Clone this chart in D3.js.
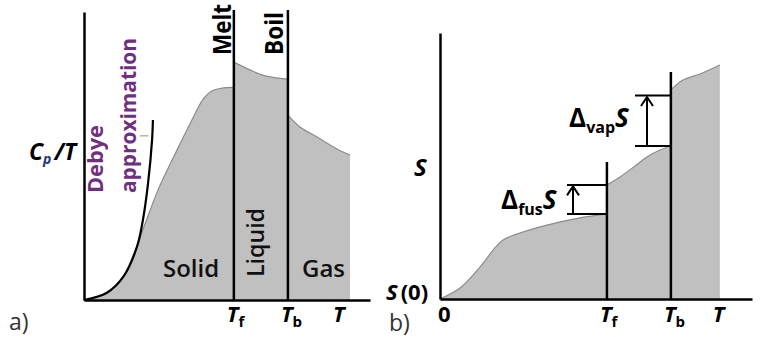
<!DOCTYPE html>
<html>
  <head>
    <!-- load the d3 javascript library -->
    <script src="https://d3js.org/d3.v7.min.js"></script>
    <style>
      body { margin: 0; background: #fff; }
      text { font-family: "Open Sans", Lato, sans-serif; }
    </style>
  </head>
  <body>
    <script>

    // ---- panel a) : Cp/T against T (arbitrary units 0..10) ----
    var aTf = 5.24, aTb = 7.13, aTend = 9.3;
    var aSolid = [[0,0],[0.8,0.25],[1.37,0.8],[1.7,1.5],[2.1,2.55],[2.6,3.85],
      [3.2,5.1],[3.8,6.3],[4.15,6.95],[4.45,7.25],[4.8,7.35],[5.24,7.38]];
    var aLiquid = [[5.24,8.26],[5.8,7.99],[6.33,7.78],[7.13,7.67]];
    var aGas = [[7.13,6.42],[7.55,6.01],[8.15,5.66],[8.78,5.28],[9.3,5.03]];
    var debye = [[0,0],[0.8,0.25],[1.37,0.8],[1.85,1.84],[2.06,2.78],[2.24,4.06],[2.38,5.56],[2.41,6.25]];
    var aTicks = [aTf, aTb, 8.95];
    var aTickSubs = ["f", "b", ""];

    // ---- panel b) : S against T ----
    var bTf = 5.35, bTb = 7.4;
    var bSolid = [[0,0],[0.64,0.41],[1.28,1.2],[1.76,1.92],[2.02,2.22],[2.56,2.48],
      [3.43,2.78],[4.49,3.05],[5.35,3.2]];
    var bLiquid = [[5.35,4.29],[5.77,4.59],[6.25,5.0],[6.63,5.34],[7.05,5.6],[7.4,5.75]];
    var bGas = [[7.4,7.86],[7.79,8.23],[8.33,8.46],[8.97,8.8]];
    var bTicks = [0.16, bTf, bTb, 8.97];
    var bTickMain = ["0", "T", "T", "T"];
    var bTickSubs = ["", "f", "b", ""];

    var w = 763, h = 337;
    var svg = d3.select("body").append("svg")
      .attr("width", w).attr("height", h);

    var fillCol = "#c0c0c0", edgeCol = "#8c8c8c", purple = "#70307f";

    // scales
    var xa = d3.scaleLinear().domain([0, 10]).range([84, 370]);
    var ya = d3.scaleLinear().domain([0, 10]).range([300, 12]);
    var xb = d3.scaleLinear().domain([0, 10]).range([440, 752]);
    var yb = d3.scaleLinear().domain([0, 10]).range([299, 33]);

    function drawPhases(g, x, y, phases) {
      var area = d3.area().x(function(d) { return x(d[0]); })
        .y0(y(0)).y1(function(d) { return y(d[1]); })
        .curve(d3.curveCatmullRom);
      var line = d3.line().x(function(d) { return x(d[0]); })
        .y(function(d) { return y(d[1]); })
        .curve(d3.curveCatmullRom);
      phases.forEach(function(p) {
        g.append("path").datum(p).attr("d", area).attr("fill", fillCol);
        g.append("path").datum(p).attr("d", line)
          .attr("fill", "none").attr("stroke", edgeCol).attr("stroke-width", 1.2);
      });
    }

    function axes(g, x, y, yTop) {
      g.append("g").attr("transform", "translate(0," + y(0) + ")")
        .call(d3.axisBottom(x).tickValues([]).tickSizeOuter(0))
        .select(".domain").attr("stroke-width", 2.5);
      g.append("g").attr("transform", "translate(" + x(0) + ",0)")
        .call(d3.axisLeft(d3.scaleLinear().domain([0, 1]).range([y(0), yTop]))
          .tickValues([]).tickSizeOuter(0))
        .select(".domain").attr("stroke-width", 2.5);
    }

    function vline(g, xv, y1, y2) {
      g.append("line").attr("x1", xv).attr("x2", xv).attr("y1", y1).attr("y2", y2)
        .attr("stroke", "#000").attr("stroke-width", 2.5);
    }

    function subLabel(g, xv, yv, main, sub, size, italicMain) {
      var t = g.append("text").attr("x", xv).attr("y", yv)
        .attr("font-size", size).attr("font-weight", "bold");
      t.append("tspan").text(main).attr("font-style", italicMain ? "italic" : "normal");
      if (sub) t.append("tspan").text(sub).attr("font-size", size * 0.68).attr("dy", 5);
      return t;
    }

    // ===== panel a =====
    var ga = svg.append("g");
    drawPhases(ga, xa, ya, [aSolid, aLiquid, aGas]);

    // debye curve
    ga.append("path").datum(debye)
      .attr("d", d3.line().x(function(d) { return xa(d[0]); })
        .y(function(d) { return ya(d[1]); }).curve(d3.curveCatmullRom))
      .attr("fill", "none").attr("stroke", "#000").attr("stroke-width", 2.2);
    ga.append("line").attr("x1", xa(1.95)).attr("x2", xa(2.25))
      .attr("y1", ya(5.7)).attr("y2", ya(5.7))
      .attr("stroke", "#b0a070").attr("stroke-width", 1.2);

    vline(ga, xa(aTf), 10, ya(0));
    vline(ga, xa(aTb), 10, ya(0));
    axes(ga, xa, ya, 12);

    // rotated labels
    function rotText(g, xv, yv, s, size, col, wt, len) {
      var t = g.append("text").attr("transform", "translate(" + xv + "," + yv + ") rotate(-90)")
        .attr("font-size", size).attr("font-weight", wt || "bold").attr("fill", col).text(s);
      if (len) t.attr("textLength", len).attr("lengthAdjust", "spacingAndGlyphs");
      return t;
    }
    rotText(ga, 231, 55, "Melt", 25, "#000", "bold", 51);
    rotText(ga, 283, 55, "Boil", 25, "#000", "bold", 43);
    rotText(ga, 103, 193, "Debye", 21, purple, "bold", 68);
    rotText(ga, 136, 193, "approximation", 21, purple, "bold", 155);
    rotText(ga, 264, 277, "Liquid", 23, "#111", 600, 69);

    ga.append("text").attr("x", 163).attr("y", 277).attr("font-size", 24)
      .attr("font-weight", 600).attr("fill", "#111").text("Solid");
    ga.append("text").attr("x", 302).attr("y", 277).attr("font-size", 24)
      .attr("font-weight", 600).attr("fill", "#111").text("Gas");

    var cp = ga.append("text").attr("x", 29).attr("y", 160).attr("font-size", 23)
      .attr("font-weight", "bold").attr("font-style", "italic");
    cp.append("tspan").text("C");
    cp.append("tspan").text("p").attr("font-size", 14).attr("dy", 4).attr("fill", "#233a7a");
    cp.append("tspan").text("/T").attr("dy", -4).attr("dx", 3);

    aTicks.forEach(function(v, i) {
      subLabel(ga, xa(v) - 7, 322, "T", aTickSubs[i], 22, true);
    });
    ga.append("text").attr("x", 9).attr("y", 330).attr("font-size", 23)
      .attr("fill", "#333").text("a)");

    // ===== panel b =====
    var gb = svg.append("g");
    drawPhases(gb, xb, yb, [bSolid, bLiquid, bGas]);
    vline(gb, xb(bTf), 162, yb(0));
    vline(gb, xb(bTb), 72, yb(0));
    axes(gb, xb, yb, 33);

    // jump brackets with arrows
    function bracket(g, xTr, sLow, sHigh, xLeft, xArrow) {
      [sLow, sHigh].forEach(function(s) {
        g.append("line").attr("x1", xLeft).attr("x2", xTr)
          .attr("y1", yb(s)).attr("y2", yb(s))
          .attr("stroke", "#000").attr("stroke-width", 2);
      });
      var yt = yb(sHigh) + 1.5, yl = yb(sLow);
      g.append("line").attr("x1", xArrow).attr("x2", xArrow).attr("y1", yl).attr("y2", yt)
        .attr("stroke", "#000").attr("stroke-width", 2);
      g.append("path").attr("d", "M" + (xArrow - 6) + "," + (yt + 9) + "L" + xArrow + "," + yt +
        "L" + (xArrow + 6) + "," + (yt + 9))
        .attr("fill", "none").attr("stroke", "#000").attr("stroke-width", 2);
    }
    bracket(gb, xb(bTf), 3.2, 4.29, 567, 573);
    bracket(gb, xb(bTb), 5.75, 7.65, 635, 647);

    function delta(g, xv, yv, sub) {
      var t = g.append("text").attr("x", xv).attr("y", yv)
        .attr("font-size", 26).attr("font-weight", "bold");
      t.append("tspan").text("\u0394");
      t.append("tspan").text(sub).attr("font-size", 16).attr("dy", 6);
      t.append("tspan").text("S").attr("font-style", "italic").attr("dy", -6);
    }
    delta(gb, 569, 127, "vap");
    delta(gb, 501, 209, "fus");

    gb.append("text").attr("x", 414).attr("y", 176).attr("font-size", 24)
      .attr("font-weight", "bold").attr("font-style", "italic").text("S");
    var s0 = gb.append("text").attr("x", 386).attr("y", 300).attr("font-size", 22)
      .attr("font-weight", "bold");
    s0.append("tspan").text("S").attr("font-style", "italic");
    s0.append("tspan").text("(0)").attr("dx", 3);

    bTicks.forEach(function(v, i) {
      subLabel(gb, xb(v) - 7, 322, bTickMain[i], bTickSubs[i], 22, bTickMain[i] === "T");
    });
    gb.append("text").attr("x", 389).attr("y", 331).attr("font-size", 23)
      .attr("fill", "#333").text("b)");

    </script>
  </body>
</html>
